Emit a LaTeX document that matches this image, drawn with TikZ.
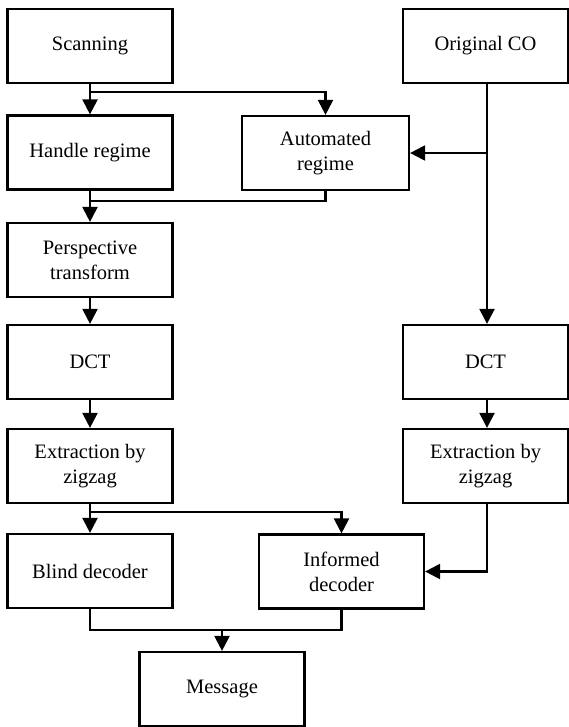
\documentclass[tikz,border=0pt]{standalone}
\usepackage{fontspec}
\setmainfont{Liberation Serif}
\usetikzlibrary{arrows.meta}
\begin{document}
\begin{tikzpicture}[x=1pt,y=-1pt,
  blk/.style={draw,line width=2.2pt,minimum width=165pt,minimum height=74pt,align=center,inner sep=0pt,
    font=\fontsize{20.5}{25}\selectfont},
  conn/.style={line width=2.2pt},
  arr/.style={conn,-{Triangle[length=15pt,width=15pt]}}]
\useasboundingbox (0,0) rectangle (568,727);
\node[blk] (scan) at (90,46) {Scanning};
\node[blk] (orig) at (485.5,46) {Original CO};
\node[blk] (hand) at (90,152.5) {Handle regime};
\node[blk,minimum width=167pt] (auto) at (325.5,153) {Automated\\regime};
\node[blk] (pers) at (90,260) {Perspective\\transform};
\node[blk] (dctl) at (90,362) {DCT};
\node[blk] (dctr) at (485.5,362) {DCT};
\node[blk] (extl) at (90,466) {Extraction by\\zigzag};
\node[blk] (extr) at (485.5,466) {Extraction by\\zigzag};
\node[blk] (blind) at (90,571) {Blind decoder};
\node[blk] (inf) at (341.5,571.5) {Informed\\decoder};
\node[blk] (msg) at (222,689) {Message};
% coordinates
\coordinate (b1) at (90,92);
\coordinate (m1) at (90,201);
\coordinate (c1) at (487,153);
\coordinate (b2) at (90,512);
\coordinate (m2) at (222,630);
% connectors
\draw[arr] (scan.south) -- (hand.north);
\draw[arr] (b1) -| (auto.north);
\draw[arr] (hand.south) -- (pers.north);
\draw[conn] (auto.south) |- (m1);
\draw[arr] (pers.south) -- (dctl.north);
\draw[arr] (dctl.south) -- (extl.north);
\draw[arr] (extl.south) -- (blind.north);
\draw[arr] (b2) -| (inf.north);
\draw[arr] (orig.south -| c1) -- (dctr.north -| c1);
\draw[arr] (c1) -- (auto.east);
\draw[arr] (dctr.south -| c1) -- (extr.north -| c1);
\draw[arr] (extr.south -| c1) |- (inf.east);
\draw[conn] (blind.south) |- (m2) -| (inf.south);
\draw[arr] (m2) -- (msg.north);
\end{tikzpicture}
\end{document}
